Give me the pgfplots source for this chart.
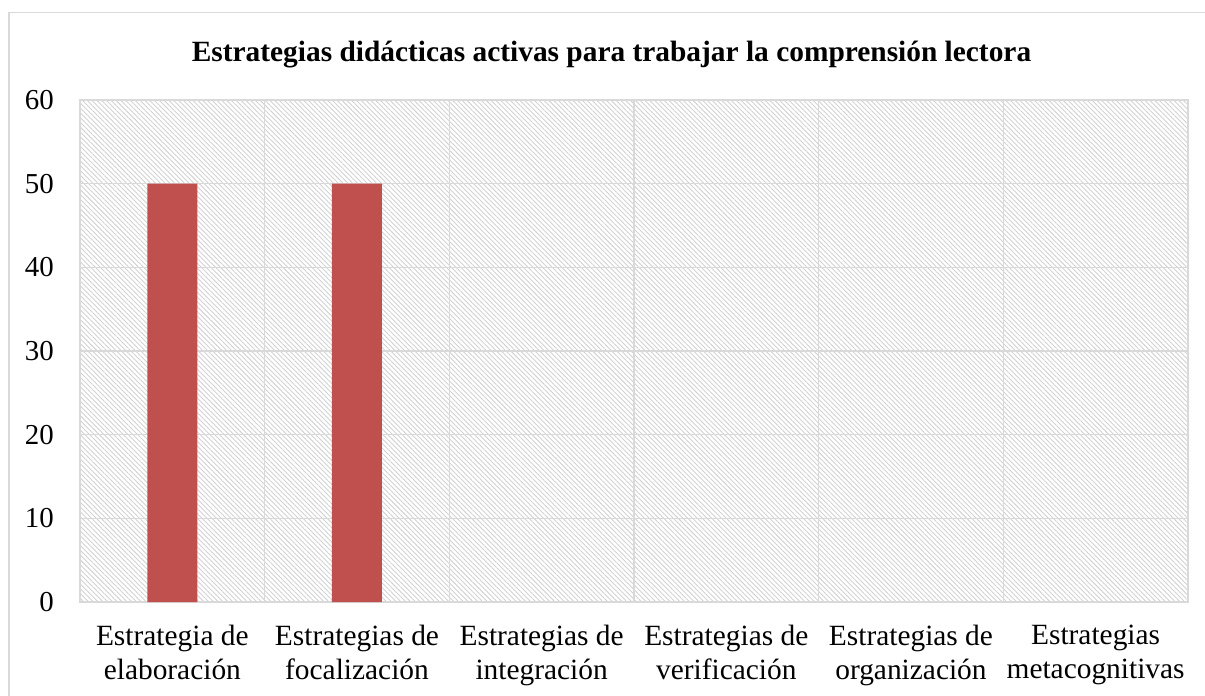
\documentclass[border=0pt]{standalone}
\usepackage{fontspec}
\setmainfont{Liberation Serif}
\usepackage{pgfplots}
\pgfplotsset{compat=1.18}
\usetikzlibrary{patterns.meta}
\definecolor{barred}{HTML}{C0504D}
\definecolor{gridgray}{HTML}{D9D9D9}
\definecolor{hatch}{HTML}{D2D2D2}

\begin{document}
\begin{tikzpicture}
\useasboundingbox (0,0) rectangle (1205bp,696bp);
\draw[gridgray, line width=1.5bp] (9bp,0) -- (9bp,683.3bp) -- (1205bp,683.3bp);
\node[font=\fontsize{29.5}{34}\selectfont\bfseries, anchor=base, inner sep=0pt] at (611.5bp,634bp) {Estrategias didácticas activas para trabajar la comprensión lectora};
\begin{axis}[
 at={(80bp,94bp)}, anchor=south west, scale only axis, width=1108bp, height=502bp,
 xmin=-0.5, xmax=5.5, ymin=0, ymax=60, ytick={0,10,...,60},
 xtick={0,...,5},
 minor xtick={0.5,1.5,...,4.5},
 ymajorgrids, xminorgrids,
 major tick length=0, minor tick length=0,
 grid style={gridgray, line width=1.3bp},
 axis line style={gridgray, line width=1.3bp},
 axis background/.style={pattern={Lines[angle=-45,distance=3.4bp,line width=0.9bp]}, pattern color=hatch},
 yticklabel style={font=\fontsize{29}{34}\selectfont, anchor=east, inner sep=0pt, xshift=-26bp},
 /pgf/number format/assume math mode=true,
 xticklabel style={font=\fontsize{29.5}{34}\selectfont, align=center, anchor=north, inner sep=0pt, yshift=-23bp},
 xticklabels={{Estrategia de\\elaboración},{Estrategias de\\focalización},{Estrategias de\\integración},{Estrategias de\\verificación},{Estrategias de\\organización},{Estrategias\\metacognitivas}},
]
% values: 50, 50, 0, 0, 0, 0 (zero bars are not drawn)
\addplot[ybar, bar width=50bp, fill=barred, draw=none] coordinates {(0,50) (1,50)};
\end{axis}
\end{tikzpicture}
\end{document}
